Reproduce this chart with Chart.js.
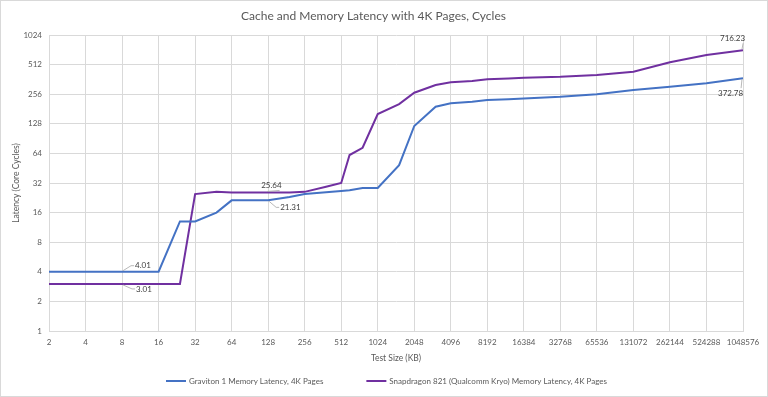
<!DOCTYPE html>
<html>
<head>
<meta charset="utf-8">
<script src="https://cdn.jsdelivr.net/npm/chart.js@4/dist/chart.umd.min.js"></script>
<style>
  html, body { margin: 0; padding: 0; background: #fff; }
  #wrap { position: relative; width: 766px; height: 395px; border: 1px solid #d9d9d9; }
</style>
</head>
<body>
<div id="wrap"><canvas id="chart"></canvas></div>
<script>
// test sizes in KB
const sizes = [2, 4, 8, 16, 24, 32, 48, 64, 96, 128, 192, 256, 384, 512, 600, 768, 1024,
  1536, 2048, 3072, 4096, 6144, 8192, 12288, 16384, 32768, 65536, 131072, 262144, 524288, 1048576];

const graviton = [4.01, 4.01, 4.01, 4.01, 13, 13, 16, 21.31, 21.31, 21.31, 23, 24.7, 25.8, 26.5, 27, 28.5, 28.5,
  48.6, 121.6, 191, 207, 215, 223, 228, 232, 241, 256, 282, 305, 330, 372.78];

const snapdragon = [3.01, 3.01, 3.01, 3.01, 3.01, 24.7, 26, 25.6, 25.6, 25.64, 25.6, 26, 29.3, 32, 61.6, 73, 161,
  203, 265, 317, 338, 349, 363, 370, 377, 385, 401, 433, 540, 640, 716.23];

const xTicks = [2, 4, 8, 16, 32, 64, 128, 256, 512, 1024, 2048, 4096, 8192, 16384, 32768, 65536,
  131072, 262144, 524288, 1048576];
const yTicks = [1, 2, 4, 8, 16, 32, 64, 128, 256, 512, 1024];

const seriesNames = ['Graviton 1 Memory Latency, 4K Pages', 'Snapdragon 821 (Qualcomm Kryo) Memory Latency, 4K Pages'];
const seriesColors = ['#4472C4', '#7030A0'];

// which points get a value label, and where the label sits (offsets in px)
const callouts = [
  { ds: 0, idx: 2, dx: 13, dy: -6 },
  { ds: 1, idx: 2, dx: 14, dy: 5 },
  { ds: 1, idx: 9, dx: -7, dy: -7 },
  { ds: 0, idx: 9, dx: 12, dy: 7 },
  { ds: 1, idx: 30, dx: -23, dy: -12 },
  { ds: 0, idx: 30, dx: -25, dy: 15 }
];

const font = 'Lato, "Open Sans", sans-serif';
const textColor = '#595959';

const calloutPlugin = {
  id: 'callouts',
  afterDatasetsDraw(chart) {
    const ctx = chart.ctx;
    ctx.save();
    ctx.font = '8px ' + font;
    ctx.textBaseline = 'middle';
    callouts.forEach(c => {
      const pt = chart.getDatasetMeta(c.ds).data[c.idx];
      const ds = chart.data.datasets[c.ds];
      const txt = ds.data[c.idx].y.toFixed(2);
      const tx = pt.x + c.dx, ty = pt.y + c.dy;
      const w = ctx.measureText(txt).width;
      // leader line
      ctx.strokeStyle = '#a6a6a6';
      ctx.lineWidth = 0.8;
      ctx.beginPath();
      if (c.dx > 0) {
        ctx.moveTo(pt.x + 1, pt.y + (c.dy < 0 ? -1 : 1));
        ctx.lineTo(tx - 4, ty);
        ctx.lineTo(tx - 1, ty);
      } else {
        ctx.moveTo(pt.x - 1, pt.y + (c.dy < 0 ? -1 : 1));
        ctx.lineTo(tx + w - 2, ty + (c.dy < 0 ? 5 : -5));
      }
      ctx.stroke();
      ctx.fillStyle = '#404040';
      ctx.textAlign = 'left';
      ctx.fillText(txt, tx, ty);
    });
    ctx.restore();
  }
};

// Excel-style legend: short line, label, wide gap between entries
const legendPlugin = {
  id: 'lineLegend',
  afterDraw(chart) {
    const ctx = chart.ctx;
    ctx.save();
    ctx.font = '8px ' + font;
    ctx.textBaseline = 'middle';
    const lineLen = 20, gapText = 3, gapItem = 43, y = 380;
    const widths = seriesNames.map(n => lineLen + gapText + ctx.measureText(n).width);
    const total = widths.reduce((a, b) => a + b, 0) + gapItem * (widths.length - 1);
    let x = 385.5 - total / 2;
    seriesNames.forEach((name, i) => {
      ctx.strokeStyle = seriesColors[i];
      ctx.lineWidth = 2;
      ctx.beginPath();
      ctx.moveTo(x, y);
      ctx.lineTo(x + lineLen, y);
      ctx.stroke();
      ctx.fillStyle = textColor;
      ctx.textAlign = 'left';
      ctx.fillText(name, x + lineLen + gapText, y);
      x += widths[i] + gapItem;
    });
    ctx.restore();
  }
};

const ctx = document.getElementById('chart').getContext('2d');
new Chart(ctx, {
  type: 'line',
  data: {
    datasets: [graviton, snapdragon].map((vals, i) => ({
      label: seriesNames[i],
      data: sizes.map((s, j) => ({ x: s, y: vals[j] })),
      borderColor: seriesColors[i],
      backgroundColor: seriesColors[i],
      borderWidth: 2,
      pointRadius: 0,
      tension: 0,
      fill: false
    }))
  },
  options: {
    responsive: true,
    maintainAspectRatio: false,
    animation: false,
    layout: { padding: { left: 3, right: 24, top: 0, bottom: 31 } },
    plugins: {
      title: {
        display: true,
        text: 'Cache and Memory Latency with 4K Pages, Cycles',
        color: textColor,
        font: { family: font, size: 12, weight: 'normal' },
        padding: { top: 8, bottom: 11.6 }
      },
      legend: { display: false },
      tooltip: { enabled: false }
    },
    scales: {
      x: {
        type: 'logarithmic',
        min: 2,
        max: 1048576,
        afterBuildTicks: scale => { scale.ticks = xTicks.map(v => ({ value: v })); },
        afterFit: scale => { scale.height = 34; },
        ticks: {
          autoSkip: false,
          maxRotation: 0,
          color: textColor,
          font: { family: font, size: 8 },
          padding: 7,
          callback: v => String(v)
        },
        grid: { color: '#d9d9d9', drawTicks: false },
        border: { color: '#d9d9d9' },
        title: {
          display: true,
          text: 'Test Size (KB)',
          color: textColor,
          font: { family: font, size: 8.5 },
          padding: { top: 0, bottom: 2 }
        }
      },
      y: {
        type: 'logarithmic',
        min: 1,
        max: 1024,
        afterBuildTicks: scale => { scale.ticks = yTicks.map(v => ({ value: v })); },
        afterFit: scale => { scale.width = 45; },
        ticks: {
          color: textColor,
          font: { family: font, size: 8 },
          padding: 7,
          callback: v => String(v)
        },
        grid: { color: '#d9d9d9', drawTicks: false },
        border: { color: '#d9d9d9' },
        title: {
          display: true,
          text: 'Latency (Core Cycles)',
          color: textColor,
          font: { family: font, size: 8.5 },
          padding: { top: 7, bottom: 0 }
        }
      }
    }
  },
  plugins: [calloutPlugin, legendPlugin]
});
</script>
</body>
</html>
